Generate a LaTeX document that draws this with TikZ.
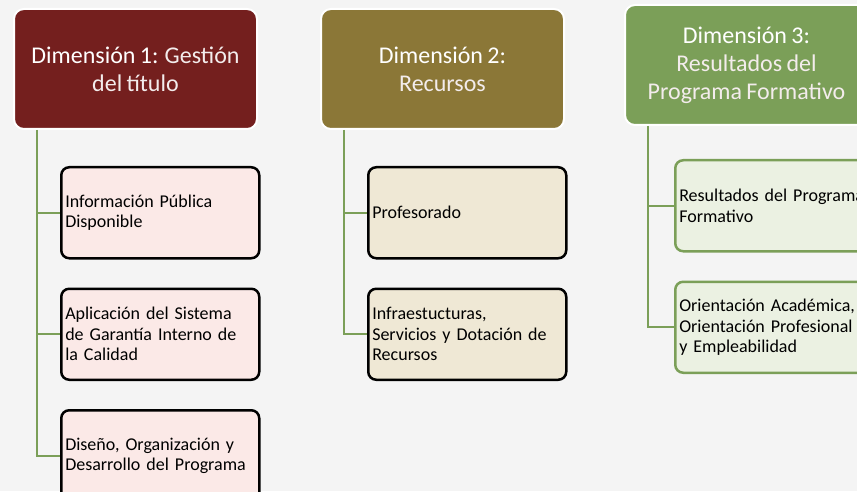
\documentclass[tikz,border=0pt]{standalone}
\usepackage{fontspec}
\setmainfont{Carlito}[WordSpace=0.8]
\usetikzlibrary{positioning}

\definecolor{bgc}{HTML}{F4F4F4}
\definecolor{dimred}{HTML}{741F1E}
\definecolor{dimolive}{HTML}{8B7737}
\definecolor{dimgreen}{HTML}{7B9F58}
\definecolor{itemred}{HTML}{FBE9E7}
\definecolor{itemolive}{HTML}{EFE8D5}
\definecolor{itemgreen}{HTML}{EBF1E2}
\definecolor{linkc}{HTML}{7B9F58}
\definecolor{softw}{HTML}{F3ECEC}

\begin{document}
\begin{tikzpicture}[x=1pt,y=1pt,
    dim/.style={draw=white,line width=2pt,rounded corners=10pt,minimum width=243pt,
      minimum height=120pt,text=white,align=center,
      font=\fontsize{24}{28}\selectfont},
    item/.style={draw=black,line width=2.5pt,rounded corners=8pt,minimum height=91pt,
      text width=190pt,inner xsep=4pt,align=left,font=\fontsize{18}{20.5}\selectfont},
    link/.style={draw=linkc,line width=2.2pt}]
   \useasboundingbox (0,0) rectangle (857,491);
   \clip (0,0) rectangle (857,491);
   \fill[bgc] (0,0) rectangle (857,491);

   \node[dim,fill=dimred] (h1) at (135.5,422) {Dimensión 1: \color{softw}Gestión\\\color{softw}del título};
   \node[dim,fill=dimolive] (h2) [right=62pt of h1] {Dimensión 2:\\\color{softw}Recursos};
   \node[dim,fill=dimgreen] (h3) [right=59pt of h2,yshift=4pt] {Dimensión 3:\\\color{softw}Resultados del\\\color{softw}Programa Formativo};

   % dimension 1
   \node[item,fill=itemred] (c11) [below right=36pt and 47pt of h1.south west] {Información Pública\\Disponible};
   \node[item,fill=itemred] (c12) [below=28pt of c11] {Aplicación del Sistema\\de Garantía Interno de\\la Calidad};
   \node[item,fill=itemred] (c13) [below=28pt of c12] {Diseño, Organización y\\Desarrollo del Programa};
   % dimension 2
   \node[item,fill=itemolive] (c21) [below right=36pt and 47pt of h2.south west] {Profesorado};
   \node[item,fill=itemolive] (c22) [below=28pt of c21] {Infraestucturas,\\Servicios y Dotación de\\Recursos};
   % dimension 3
   \node[item,draw=dimgreen,fill=itemgreen] (c31) [below right=33pt and 50pt of h3.south west] {Resultados del Programa\\Formativo};
   \node[item,draw=dimgreen,fill=itemgreen] (c32) [below=28pt of c31] {Orientación Académica,\\Orientación Profesional\\y Empleabilidad};

   \path[link]
    ([xshift=24pt]h1.south west) |- (c11.west)
    ([xshift=24pt]h1.south west) |- (c12.west)
    ([xshift=24pt]h1.south west) |- (c13.west)
    ([xshift=24pt]h2.south west) |- (c21.west)
    ([xshift=24pt]h2.south west) |- (c22.west)
    ([xshift=24pt]h3.south west) |- (c31.west)
    ([xshift=24pt]h3.south west) |- (c32.west);
\end{tikzpicture}
\end{document}
